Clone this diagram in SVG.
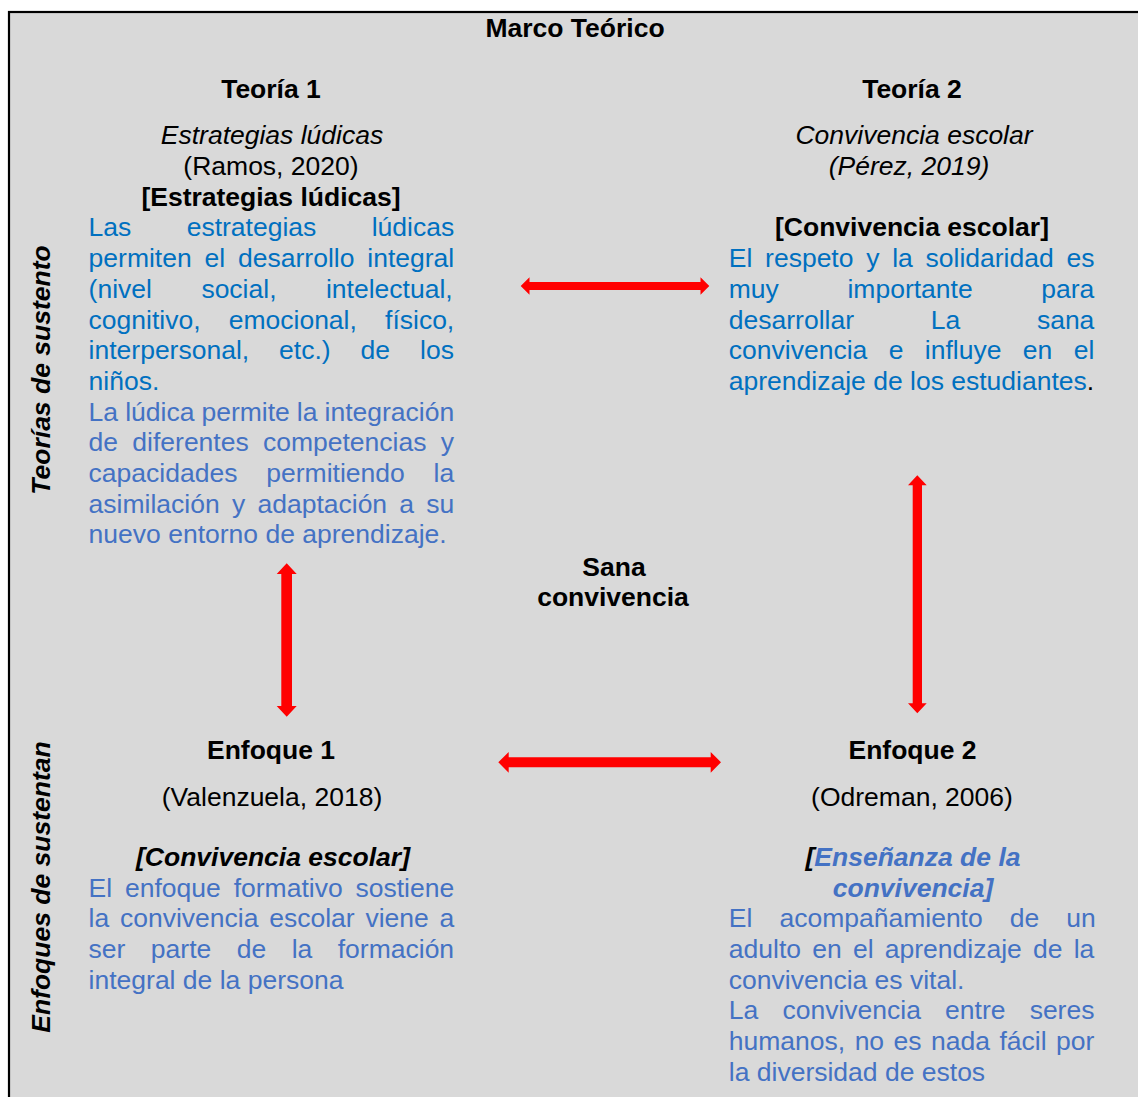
<svg xmlns="http://www.w3.org/2000/svg" width="1138" height="1097" viewBox="0 0 1138 1097">
<style>
text{font-family:"Liberation Sans",Arial,sans-serif;font-size:26.5px;fill:#000}
.b{font-weight:bold}
.i{font-style:italic}
.m{text-anchor:middle}
.c1{fill:#0070c0}
.c2{fill:#4472c4}
.arrow{fill:#ff0000}
</style>
<rect x="0" y="0" width="1138" height="1097" fill="#ffffff"/>
<rect id="frame" x="9" y="12" width="1200" height="1150" fill="#d9d9d9" stroke="#000" stroke-width="2.2"/>

<g id="title">
<text class="b m" x="575" y="37">Marco Teórico</text>
</g>

<g id="side-labels">
<text class="b i m" transform="translate(50,370) rotate(-90)">Teorías de sustento</text>
<text class="b i m" transform="translate(50,887) rotate(-90)">Enfoques de sustentan</text>
</g>

<g id="teoria1">
<text class="b m" x="271" y="98.3">Teoría 1</text>
<text class="i m" x="272" y="144.3">Estrategias lúdicas</text>
<text class="m" x="271" y="175">(Ramos, 2020)</text>
<text class="b m" x="271" y="205.7">[Estrategias lúdicas]</text>
<text class="c1" x="88.6" y="236.4" style="word-spacing:48px">Las estrategias lúdicas</text>
<text class="c1" x="88.6" y="267.1" style="word-spacing:5.5px">permiten el desarrollo integral</text>
<text class="c1" x="88.6" y="297.8" style="word-spacing:42.1px">(nivel social, intelectual,</text>
<text class="c1" x="88.6" y="328.5" style="word-spacing:20.8px">cognitivo, emocional, físico,</text>
<text class="c1" x="88.6" y="359.2" style="word-spacing:22.6px">interpersonal, etc.) de los</text>
<text class="c1" x="88.6" y="389.9">niños.</text>
<text class="c2" x="88.6" y="420.6" style="word-spacing:-0.3px">La lúdica permite la integración</text>
<text class="c2" x="88.6" y="451.3" style="word-spacing:6.9px">de diferentes competencias y</text>
<text class="c2" x="88.6" y="482" style="word-spacing:21.5px">capacidades permitiendo la</text>
<text class="c2" x="88.6" y="512.7" style="word-spacing:4.9px">asimilación y adaptación a su</text>
<text class="c2" x="88.6" y="543.4">nuevo entorno de aprendizaje.</text>
</g>

<g id="teoria2">
<text class="b m" x="912" y="98.3">Teoría 2</text>
<text class="i m" x="914" y="144.3">Convivencia escolar</text>
<text class="i m" x="909" y="175">(Pérez, 2019)</text>
<text class="b m" x="912" y="236.4">[Convivencia escolar]</text>
<text class="c1" x="728.8" y="267.1" style="word-spacing:5.36px">El respeto y la solidaridad es</text>
<text class="c1" x="728.8" y="297.8" style="word-spacing:61.25px">muy importante para</text>
<text class="c1" x="728.8" y="328.5" style="word-spacing:69.35px">desarrollar La sana</text>
<text class="c1" x="728.8" y="359.2" style="word-spacing:14.05px">convivencia e influye en el</text>
<text x="728.8" y="389.9"><tspan class="c1">aprendizaje de los estudiantes</tspan>.</text>
</g>

<g id="centro">
<text class="b m" x="614" y="575.5">Sana</text>
<text class="b m" x="613" y="606">convivencia</text>
</g>

<g id="enfoque1">
<text class="b m" x="271" y="759.3">Enfoque 1</text>
<text class="m" x="272" y="805.5">(Valenzuela, 2018)</text>
<text class="b i m" x="273" y="866">[Convivencia escolar]</text>
<text class="c2" x="88.6" y="896.7" style="word-spacing:5.5px">El enfoque formativo sostiene</text>
<text class="c2" x="88.6" y="927.4" style="word-spacing:3.4px">la convivencia escolar viene a</text>
<text class="c2" x="88.6" y="958.1" style="word-spacing:18.1px">ser parte de la formación</text>
<text class="c2" x="88.6" y="988.8">integral de la persona</text>
</g>

<g id="enfoque2">
<text class="b m" x="912.5" y="759.3">Enfoque 2</text>
<text class="m" x="912" y="805.5">(Odreman, 2006)</text>
<text class="b i m" x="913" y="866">[<tspan class="c2">Enseñanza de la</tspan></text>
<text class="b i m c2" x="913" y="896.5">convivencia]</text>
<text class="c2" x="728.8" y="927.2" style="word-spacing:19.7px">El acompañamiento de un</text>
<text class="c2" x="728.8" y="957.9" style="word-spacing:3.86px">adulto en el aprendizaje de la</text>
<text class="c2" x="728.8" y="988.6">convivencia es vital.</text>
<text class="c2" x="728.8" y="1019.3" style="word-spacing:16.8px">La convivencia entre seres</text>
<text class="c2" x="728.8" y="1050" style="word-spacing:2.1px">humanos, no es nada fácil por</text>
<text class="c2" x="728.8" y="1080.7">la diversidad de estos</text>
</g>

<g id="connectors">
<polygon class="arrow" points="520.7,286 529.5,277.3 529.5,282 700.5,282 700.5,277.3 709.3,286 700.5,294.7 700.5,290 529.5,290 529.5,294.7"/>
<polygon class="arrow" points="498.3,762.3 508.7,752 508.7,757.3 710.7,757.3 710.7,752 721,762.3 710.7,772.7 710.7,767.3 508.7,767.3 508.7,772.7"/>
<polygon class="arrow" points="286.7,563.3 296.7,574 292,574 292,706 296.7,706 286.7,716.7 276.7,706 281.3,706 281.3,574 276.7,574"/>
<polygon class="arrow" points="917.3,475.3 926.7,485.3 922,485.3 922,703.3 926.7,703.3 917.3,713.3 908,703.3 912.7,703.3 912.7,485.3 908,485.3"/>
</g>
</svg>
